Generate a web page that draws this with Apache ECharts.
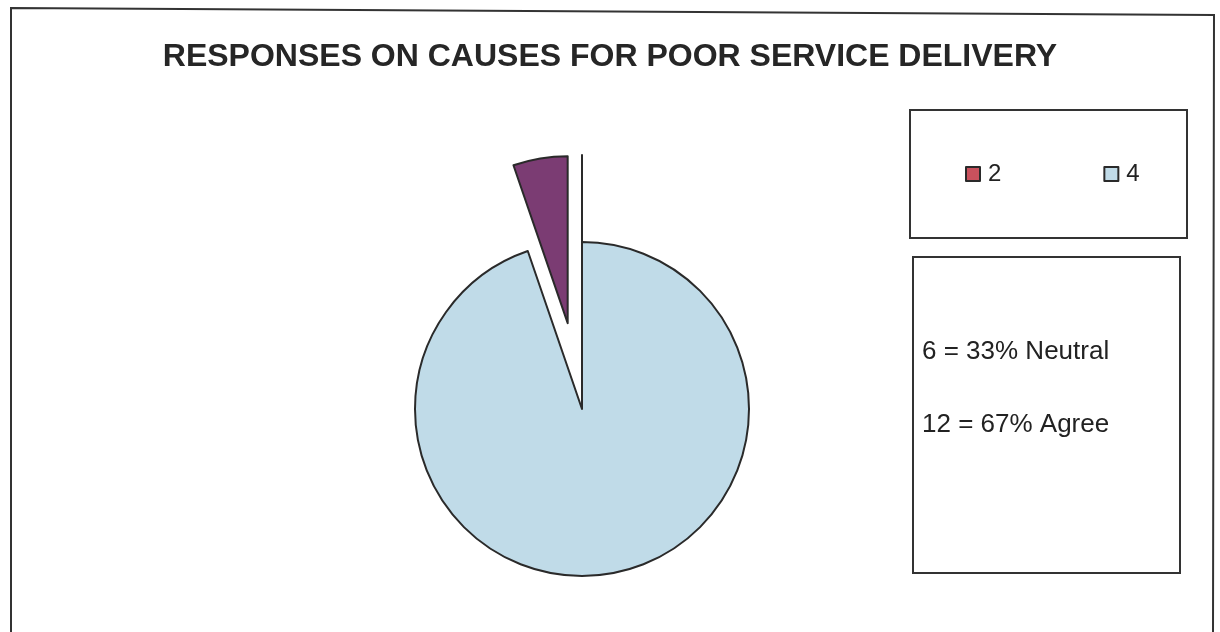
<!DOCTYPE html>
<html>
<head>
<meta charset="utf-8">
<script src="https://cdn.jsdelivr.net/npm/echarts@6/dist/echarts.min.js"></script>
<style>
html, body { margin: 0; padding: 0; background: #fff; }
#chart { width: 1220px; height: 632px; }
</style>
</head>
<body>
<div id="chart"></div>
<script>
// slice data, in clockwise order from 12 o'clock
var categories = ['2', '4', '5'];
var values = [0, 18, 1];
var sliceColors = ['#c9515d', '#c0dbe8', '#7b3c73'];
var exploded = [true, false, true];
var legendNames = ['2', '4'];
var notes = ['6 = 33% Neutral', '12 = 67% Agree'];
var chartTitle = 'RESPONSES ON CAUSES FOR POOR SERVICE DELIVERY';

var chart = echarts.init(document.getElementById('chart'), null, { renderer: 'canvas' });

var pieData = [];
for (let i = 0, len = categories.length; i < len; i++) {
    pieData.push({
        name: categories[i],
        value: values[i],
        selected: exploded[i],
        itemStyle: { color: sliceColors[i] }
    });
}

var noteTexts = [];
for (let i = 0, len = notes.length; i < len; i++) {
    noteTexts.push({
        type: 'text',
        left: 922,
        top: 339 + i * 73,
        style: {
            text: notes[i],
            font: '26px "Liberation Sans", Arial, sans-serif',
            fill: '#222'
        }
    });
}

var option = {
    animation: false,
    backgroundColor: '#fff',
    title: {
        text: chartTitle,
        left: 'center',
        top: 36,
        textStyle: {
            fontFamily: '"Liberation Sans", Arial, sans-serif',
            fontWeight: 'bold',
            fontSize: 32,
            color: '#262626'
        }
    },
    legend: {
        data: legendNames,
        orient: 'horizontal',
        left: 960,
        top: 157,
        icon: 'rect',
        itemWidth: 14,
        itemHeight: 14,
        itemGap: 102,
        selectedMode: false,
        textStyle: {
            fontFamily: '"Liberation Sans", Arial, sans-serif',
            fontSize: 24,
            color: '#222',
            padding: [0, 0, 0, 3]
        }
    },
    graphic: [
        {
            type: 'polygon',
            shape: { points: [[11, 8], [1214, 15], [1213, 640], [11, 640]] },
            style: { fill: 'none', stroke: '#333', lineWidth: 2 },
            silent: true
        },
        {
            type: 'rect',
            shape: { x: 910, y: 110, width: 277, height: 128 },
            style: { fill: 'none', stroke: '#333', lineWidth: 2 },
            silent: true
        },
        {
            type: 'rect',
            shape: { x: 913, y: 257, width: 267, height: 316 },
            style: { fill: 'none', stroke: '#333', lineWidth: 2 },
            silent: true
        }
    ].concat(noteTexts),
    series: [
        {
            type: 'pie',
            center: [582, 409],
            radius: 167,
            startAngle: 90,
            clockwise: true,
            selectedMode: 'multiple',
            selectedOffset: 87,
            stillShowZeroSum: true,
            avoidLabelOverlap: false,
            label: { show: false },
            labelLine: { show: false },
            emphasis: { disabled: true },
            itemStyle: {
                borderColor: '#2a2a2a',
                borderWidth: 2
            },
            data: pieData
        }
    ]
};
chart.setOption(option);
</script>
</body>
</html>
